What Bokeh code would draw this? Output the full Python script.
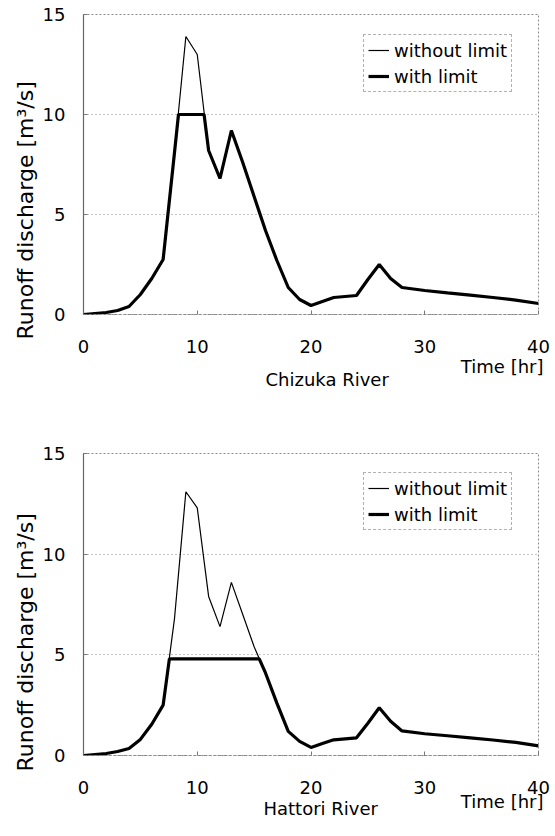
import math
from bokeh.plotting import figure
from bokeh.layouts import column
from bokeh.models import Range1d, Legend, LegendItem, FixedTicker, Title
from bokeh.embed import file_html
from bokeh.resources import INLINE

# ---------------- data ----------------
hours = [0, 1, 2, 3, 4, 5, 6, 7, 8, 9, 10, 11, 12, 13, 14, 15, 16, 17, 18, 19,
         20, 21, 22, 23, 24, 25, 26, 27, 28, 30, 32, 34, 36, 38, 40]

chizuka_without = [0.0, 0.05, 0.1, 0.2, 0.4, 1.0, 1.8, 2.75, 8.1, 13.9, 13.0, 8.2, 6.8, 9.2,
                   7.6, 5.9, 4.2, 2.7, 1.35, 0.75, 0.45, 0.65, 0.85, 0.9, 0.95, 1.75, 2.5,
                   1.8, 1.35, 1.2, 1.08, 0.97, 0.85, 0.72, 0.55]
chizuka_with_t = [0, 1, 2, 3, 4, 5, 6, 7, 8, 8.35, 10.6, 11, 12, 13, 14, 15, 16, 17, 18, 19,
                  20, 21, 22, 23, 24, 25, 26, 27, 28, 30, 32, 34, 36, 38, 40]
chizuka_with = [0.0, 0.05, 0.1, 0.2, 0.4, 1.0, 1.8, 2.75, 8.1, 10.0, 10.0, 8.2, 6.8, 9.2,
                7.6, 5.9, 4.2, 2.7, 1.35, 0.75, 0.45, 0.65, 0.85, 0.9, 0.95, 1.75, 2.5,
                1.8, 1.35, 1.2, 1.08, 0.97, 0.85, 0.72, 0.55]

hattori_without = [0.0, 0.05, 0.1, 0.2, 0.35, 0.8, 1.55, 2.5, 6.8, 13.1, 12.3, 7.9, 6.4, 8.6,
                   7.0, 5.4, 4.1, 2.6, 1.2, 0.7, 0.4, 0.6, 0.78, 0.83, 0.88, 1.6, 2.37,
                   1.7, 1.22, 1.08, 0.98, 0.88, 0.77, 0.65, 0.48]
hattori_with_t = [0, 1, 2, 3, 4, 5, 6, 7, 7.55, 15.45, 16, 17, 18, 19,
                  20, 21, 22, 23, 24, 25, 26, 27, 28, 30, 32, 34, 36, 38, 40]
hattori_with = [0.0, 0.05, 0.1, 0.2, 0.35, 0.8, 1.55, 2.5, 4.8, 4.8, 4.1, 2.6, 1.2, 0.7,
                0.4, 0.6, 0.78, 0.83, 0.88, 1.6, 2.37, 1.7, 1.22, 1.08, 0.98, 0.88, 0.77, 0.65, 0.48]

x_ticks = [0, 10, 20, 30, 40]
y_ticks = [0, 5, 10, 15]
y_label_text = "Runoff discharge [m\u00b3/s]"
x_label_text = "Time [hr]"
legend_labels = ["without limit", "with limit"]

FONT = "DejaVu Sans"


def make_chart(title, t_wo, v_wo, t_w, v_w, height, b_top, b_bottom,
               ylab_off, name_off, time_stand, name_stand, legend_loc):
    p = figure(width=555, height=height, output_backend="svg", toolbar_location=None,
               x_range=Range1d(0, 40), y_range=Range1d(0, 15),
               min_border_left=83, min_border_right=17,
               min_border_top=b_top, min_border_bottom=b_bottom)
    p.background_fill_color = "white"
    p.border_fill_color = "white"
    p.outline_line_color = "#8a8a8a"
    p.outline_line_dash = "2 2"
    p.outline_line_width = 1

    p.xgrid.visible = False
    p.ygrid.ticker = FixedTicker(ticks=y_ticks)
    p.ygrid.grid_line_color = "#8a8a8a"
    p.ygrid.grid_line_dash = "1 3"
    p.ygrid.grid_line_width = 1

    for ax in (p.xaxis[0], p.yaxis[0]):
        ax.major_label_text_font = FONT
        ax.major_label_text_font_size = "18px"
        ax.major_label_text_color = "black"
        ax.minor_tick_line_color = None
        ax.major_tick_out = 0
        ax.major_tick_in = 4
        ax.major_tick_line_color = "#777777"
    p.xaxis.ticker = FixedTicker(ticks=x_ticks)
    p.yaxis.ticker = FixedTicker(ticks=y_ticks)
    p.xaxis.major_label_standoff = 25
    p.yaxis.major_label_standoff = 18
    p.xaxis.axis_line_color = "#8a8a8a"
    p.xaxis.axis_line_dash = "3 2"
    p.yaxis.axis_line_color = "#666666"
    p.yaxis.axis_line_width = 1.2

    r1 = p.line(t_wo, v_wo, line_color="black", line_width=1.2)
    r2 = p.line(t_w, v_w, line_color="black", line_width=3.2)

    legend = Legend(items=[LegendItem(label=legend_labels[0], renderers=[r1]),
                           LegendItem(label=legend_labels[1], renderers=[r2])],
                    location=legend_loc)
    legend.label_text_font = FONT
    legend.label_text_font_size = "18px"
    legend.label_text_color = "black"
    legend.glyph_width = 21
    legend.glyph_height = 22
    legend.label_height = 22
    legend.label_standoff = 5
    legend.spacing = 4
    legend.padding = 4
    legend.margin = 0
    legend.border_line_color = "#666666"
    legend.border_line_dash = "2 2"
    legend.border_line_width = 1
    legend.background_fill_color = "white"
    legend.background_fill_alpha = 1.0
    p.add_layout(legend, "center")

    p.add_layout(Title(text=y_label_text, align="left", offset=ylab_off, standoff=3,
                       text_font=FONT, text_font_size="22px", text_font_style="normal",
                       text_color="black"), "left")
    p.add_layout(Title(text=x_label_text, align="right", offset=-5, standoff=time_stand,
                       vertical_align="middle",
                       text_font=FONT, text_font_size="18px", text_font_style="normal",
                       text_color="black"), "below")
    p.add_layout(Title(text=title, align="left", offset=name_off, standoff=name_stand,
                       vertical_align="middle",
                       text_font=FONT, text_font_size="18px", text_font_style="normal",
                       text_color="black"), "below")
    return p


p1 = make_chart("Chizuka River", hours, chizuka_without, chizuka_with_t, chizuka_with,
                418, 14, 104, -25, 182, -2, -18, (280, 222))
p2 = make_chart("Hattori River", hours, hattori_without, hattori_with_t, hattori_with,
                417, 35, 80, -16, 180, -13, -20, (280, 225))

layout = column(p1, p2, spacing=0)
open("out.html", "w").write(file_html(layout, INLINE))
